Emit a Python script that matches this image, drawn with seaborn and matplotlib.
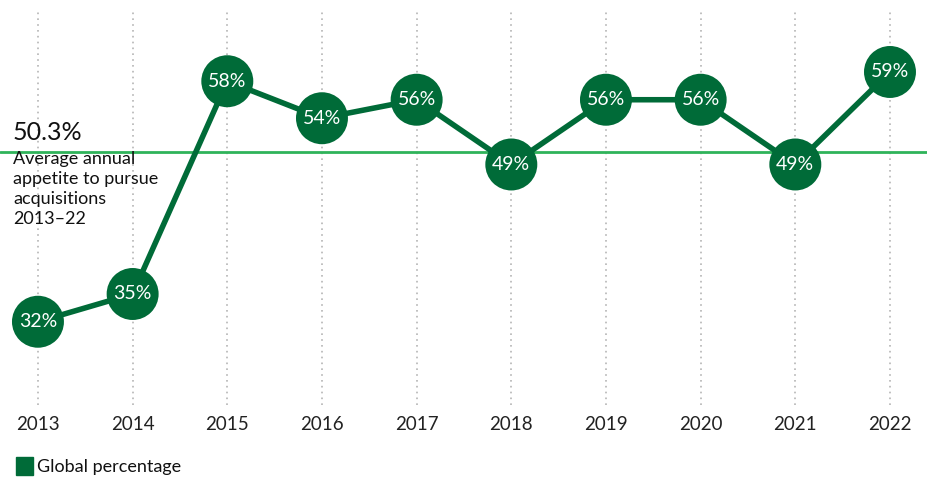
import matplotlib
matplotlib.use("Agg")
import matplotlib.pyplot as plt
import matplotlib.transforms as mtransforms
import pandas as pd
import seaborn as sns

# chart data
years = [2013, 2014, 2015, 2016, 2017, 2018, 2019, 2020, 2021, 2022]
appetite = [32, 35, 58, 54, 56, 49, 56, 56, 49, 59]
average = 50.3
avg_label = "50.3%"
avg_text = "Average annual\nappetite to pursue\nacquisitions\n2013\u201322"
legend_label = "Global percentage"

dark_green = "#006b38"
light_green = "#2fb35a"

df = pd.DataFrame({"year": years, "pct": appetite})

sns.set_style("white")
plt.rcParams["font.family"] = ["Lato", "DejaVu Sans"]

fig = plt.figure(figsize=(9.27, 4.82), dpi=100)
ax = fig.add_axes([0, 77 / 482, 1, 395 / 482])

# dotted year gridlines
for y in years:
    ax.axvline(y, color="#b5b5b5", lw=1.2, ls=(0, (1, 2.5)), zorder=0)

# average line
ax.axhline(average, color=light_green, lw=2, zorder=1)

sns.lineplot(data=df, x="year", y="pct", color=dark_green, lw=4, ax=ax, zorder=2)
sns.scatterplot(data=df, x="year", y="pct", color=dark_green, s=1400,
                edgecolor="none", ax=ax, zorder=3, legend=False)

for x, v in zip(years, appetite):
    ax.text(x, v, f"{v}%", color="white", fontsize=14,
            ha="center", va="center", zorder=4)

ax.set_xlim(2013 - 0.401, 2022 + 0.391)
ax.set_ylim(23.0, 65.7)
ax.set_xticks([])
ax.set_yticks([])
ax.set_xlabel("")
ax.set_ylabel("")
for s in ax.spines.values():
    s.set_visible(False)

# year labels under the axis
trans = mtransforms.blended_transform_factory(ax.transData, fig.transFigure)
for x in years:
    ax.text(x, 1 - 425 / 482, str(x), transform=trans, ha="center", va="center",
            fontsize=13.5, color="#222222")

# average annotation
fig.text(13 / 927, 1 - 133 / 482, avg_label, fontsize=18, color="#111111",
         ha="left", va="center")
fig.text(13 / 927, 1 - 151 / 482, avg_text, fontsize=13,
         color="#111111", ha="left", va="top", linespacing=1.32)

# legend
fig.patches.append(plt.Rectangle((16 / 927, 1 - 475 / 482), 17 / 927, 18 / 482,
                                 transform=fig.transFigure, color=dark_green))
fig.text(37 / 927, 1 - 467 / 482, legend_label, fontsize=13,
         color="#111111", ha="left", va="center")

fig.savefig("out.png", dpi=100)
